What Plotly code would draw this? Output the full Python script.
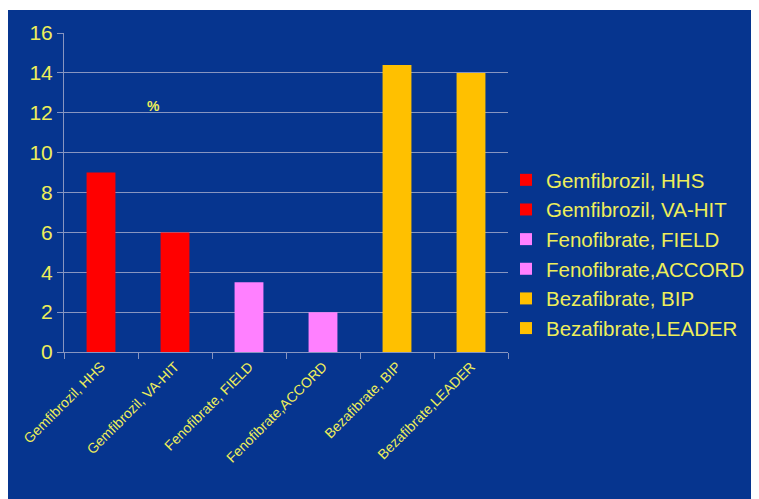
import plotly.graph_objects as go

categories = ["Gemfibrozil, HHS", "Gemfibrozil, VA-HIT", "Fenofibrate, FIELD",
              "Fenofibrate,ACCORD", "Bezafibrate, BIP", "Bezafibrate,LEADER"]
values = [9, 6, 3.5, 2, 14.4, 14]
colors = ["#ff0000", "#ff0000", "#ff80ff", "#ff80ff", "#ffc000", "#ffc000"]
y_ticks = [0, 2, 4, 6, 8, 10, 12, 14, 16]

BLUE = "#06358f"
YEL = "#eeee5a"
GRID = "#8795c0"

# page body adds an 8px offset, so the figure is sized to fill the rest
W, H = 751, 491
L, R, T, B = 56, 251, 25, 147
pw, ph = W - L - R, H - T - B

fig = go.Figure()
for c, v, col in zip(categories, values, colors):
    fig.add_trace(go.Bar(x=[c], y=[v], name=c, marker_color=col, marker_line_width=0))

def px2x(p):
    return (p - L) / pw

def py2y(p):
    return (H - B - p) / ph

shapes = [
    dict(type="rect", xref="paper", yref="paper", x0=px2x(0), x1=px2x(W), y0=py2y(0), y1=py2y(2),
         fillcolor="white", line_width=0, layer="above"),
]

fig.update_layout(
    width=W, height=H,
    margin=dict(l=L, r=R, t=T, b=B, autoexpand=False),
    paper_bgcolor=BLUE, plot_bgcolor=BLUE,
    barmode="overlay", bargap=0.61,
    font=dict(family="Liberation Sans, Arial", color=YEL),
    showlegend=True,
    legend=dict(x=px2x(498), y=py2y(152), xanchor="left", yanchor="top",
                font=dict(size=20.5, color=YEL), bgcolor="rgba(0,0,0,0)",
                itemwidth=30, tracegroupgap=0),
    shapes=shapes,
    annotations=[dict(text="<b>%</b>", x=px2x(145), y=py2y(98), xref="paper", yref="paper",
                      xanchor="center", yanchor="middle",
                      showarrow=False, font=dict(size=14, color=YEL))],
)
fig.update_xaxes(type="category", tickson="boundaries", ticks="outside", ticklen=6,
                 tickcolor=GRID, showline=True, linecolor=GRID, linewidth=1,
                 tickangle=-45, tickfont=dict(size=14, color=YEL), showgrid=False)
fig.update_yaxes(range=[0, 16], tickvals=y_ticks, ticks="outside", ticklen=6, tickcolor=GRID,
                 showline=True, linecolor=GRID, linewidth=1, gridcolor=GRID, gridwidth=1,
                 tickfont=dict(size=21, color=YEL), zeroline=False)

fig.write_html("out.html")
